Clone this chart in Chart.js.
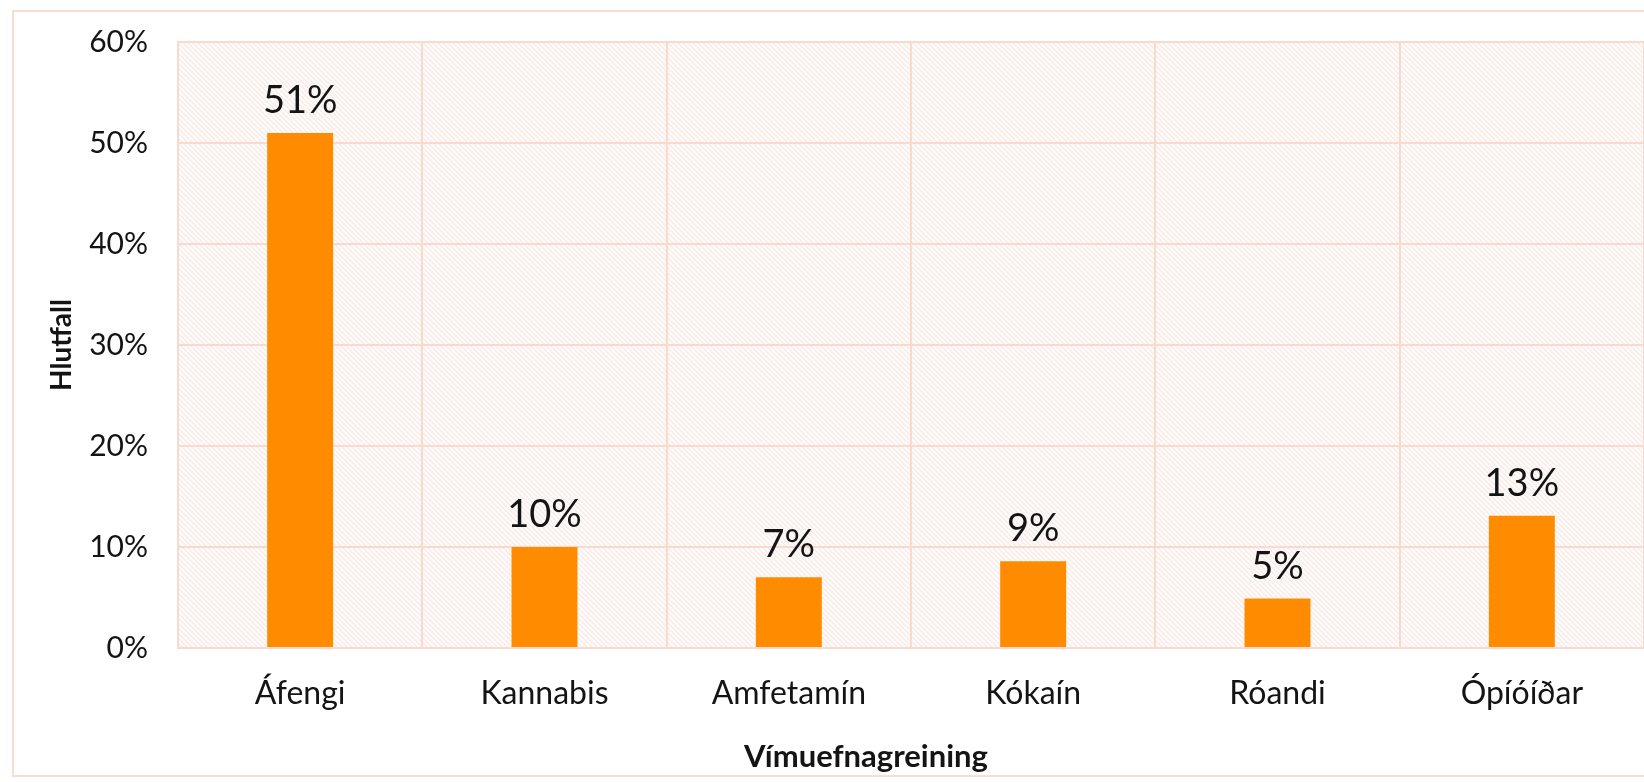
<!DOCTYPE html>
<html>
<head>
<meta charset="utf-8">
<script src="https://cdn.jsdelivr.net/npm/chart.js@4/dist/chart.umd.min.js"></script>
<style>
  html, body { margin: 0; padding: 0; background: #ffffff; overflow: hidden; }
  #frame { position: absolute; left: 12px; top: 10px; width: 1700px; height: 767px;
           border: 2px solid #f9ddd2; box-sizing: border-box; }
  #wrap { position: absolute; left: 0; top: 0; width: 1644px; height: 782px; }
</style>
</head>
<body>
<div id="frame"></div>
<div id="wrap"><canvas id="c" width="1644" height="782"></canvas></div>
<script>
const categories = ['Áfengi', 'Kannabis', 'Amfetamín', 'Kókaín', 'Róandi', 'Ópíóíðar'];
const shareValues = [0.510, 0.100, 0.070, 0.086, 0.049, 0.131];
const valueLabels = ['51%', '10%', '7%', '9%', '5%', '13%'];
const yTickMax = 0.6;
const yTickStep = 0.1;
const yAxisTitle = 'Hlutfall';
const xAxisTitle = 'Vímuefnagreining';

const GRID = '#f9dacf';
const TEXT = '#141414';
const FONT = 'Lato, "Open Sans", sans-serif';

function makeHatch(ctx) {
  const s = 5;
  const p = document.createElement('canvas');
  p.width = s; p.height = s;
  const g = p.getContext('2d');
  g.fillStyle = '#fefcfb';
  g.fillRect(0, 0, s, s);
  g.strokeStyle = '#f8ebe6';
  g.lineWidth = 1.3;
  g.beginPath();
  g.moveTo(-1, -1); g.lineTo(s + 1, s + 1);
  g.moveTo(-1, s - 1); g.lineTo(1, s + 1);
  g.moveTo(s - 1, -1); g.lineTo(s + 1, 1);
  g.stroke();
  return ctx.createPattern(p, 'repeat');
}

const hatchPlugin = {
  id: 'hatchBg',
  beforeDraw(chart) {
    const { ctx, chartArea: a } = chart;
    ctx.save();
    ctx.fillStyle = makeHatch(ctx);
    ctx.fillRect(a.left, a.top, a.right - a.left, a.bottom - a.top);
    ctx.restore();
  }
};

const valueLabelPlugin = {
  id: 'valueLabels',
  afterDatasetsDraw(chart) {
    const { ctx } = chart;
    const meta = chart.getDatasetMeta(0);
    ctx.save();
    ctx.font = '38px ' + FONT;
    ctx.fillStyle = TEXT;
    ctx.textAlign = 'center';
    ctx.textBaseline = 'alphabetic';
    meta.data.forEach((bar, i) => {
      ctx.fillText(valueLabels[i], bar.x, bar.y - 20);
    });
    ctx.restore();
  }
};

const xTitlePlugin = {
  id: 'xTitle',
  afterDraw(chart) {
    const { ctx } = chart;
    ctx.save();
    ctx.font = 'bold 31px ' + FONT;
    ctx.fillStyle = TEXT;
    ctx.textAlign = 'center';
    ctx.textBaseline = 'middle';
    ctx.fillText(xAxisTitle, 866, 757);
    ctx.restore();
  }
};

new Chart(document.getElementById('c'), {
  type: 'bar',
  data: {
    labels: categories,
    datasets: [{
      data: shareValues,
      backgroundColor: '#ff8c00',
      borderWidth: 0,
      categoryPercentage: 1.0,
      barPercentage: 0.27
    }]
  },
  plugins: [hatchPlugin, valueLabelPlugin, xTitlePlugin],
  options: {
    responsive: false,
    animation: false,
    devicePixelRatio: 1,
    layout: { padding: { top: 42, right: 0, bottom: 0, left: 0 } },
    plugins: { legend: { display: false }, tooltip: { enabled: false } },
    scales: {
      x: {
        grid: { color: GRID, lineWidth: 2, drawTicks: false, offset: true },
        border: { color: GRID, width: 2 },
        ticks: { color: TEXT, font: { family: FONT, size: 32 }, padding: 26 },
        title: { display: false },
        afterFit(scale) { scale.height = 782 - 648; }
      },
      y: {
        min: 0, max: yTickMax,
        grid: { color: GRID, lineWidth: 2, drawTicks: true, tickLength: 30, tickColor: 'rgba(0,0,0,0)' },
        border: { color: GRID, width: 2 },
        ticks: {
          stepSize: yTickStep, color: TEXT, padding: 0,
          font: { family: FONT, size: 30 },
          callback: v => Math.round(v * 100) + '%'
        },
        title: { display: true, text: yAxisTitle, color: TEXT,
                 font: { family: FONT, size: 28, weight: 'bold' }, padding: { top: 45, bottom: 0 } },
        afterFit(scale) { scale.width = 178; }
      }
    }
  }
});
</script>
</body>
</html>
